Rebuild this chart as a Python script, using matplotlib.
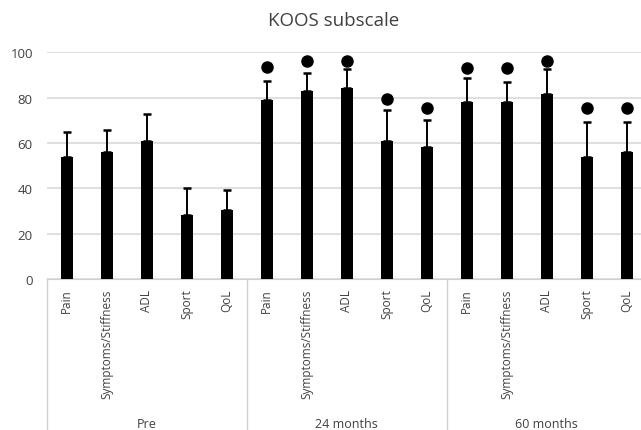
import numpy as np
import matplotlib.pyplot as plt

# KOOS subscale means, upper SD and significance dots per time point
groups = ['Pre', '24 months', '60 months']
subscales = ['Pain', 'Symptoms/Stiffness', 'ADL', 'Sport', 'QoL']
means = [54, 56, 61, 28.4, 30.4,
         79, 83, 84.3, 61, 58.4,
         78.2, 78.2, 81.6, 54, 56.2]
err_top = [65, 65.9, 72.8, 40.1, 39.4,
           87.2, 90.9, 92.6, 74.5, 70.3,
           88.5, 87, 92.6, 69.4, 69.4]
dots = [None, None, None, None, None,
        93.4, 96.3, 96.3, 79.4, 75.4,
        93, 93, 96.3, 75.4, 75.4]

plt.rcParams['font.family'] = ['Open Sans', 'DejaVu Sans']

fig = plt.figure(figsize=(6.41, 4.31), dpi=100)
ax = fig.add_axes([0.0729, 0.3503, 0.936, 0.5263])

x = np.arange(len(means))
upper = np.array(err_top) - np.array(means)
ax.bar(x, means, width=0.29, color='black', zorder=3)
ax.errorbar(x, means, yerr=[np.zeros_like(upper), upper], fmt='none',
            ecolor='black', elinewidth=1.4, capsize=3, capthick=1.8, zorder=3)
dx = [i for i, d in enumerate(dots) if d is not None]
dy = [d for d in dots if d is not None]
ax.plot(dx, dy, 'o', color='black', markersize=8, zorder=4)

ax.set_xlim(-0.5, len(means) - 0.5)
ax.set_ylim(0, 100)
ax.set_yticks(range(0, 101, 20))
ax.yaxis.grid(True, color='#d9d9d9', linewidth=1.2, zorder=0)
for s in ['top', 'right', 'left']:
    ax.spines[s].set_visible(False)
ax.spines['bottom'].set_color('#d0d0d0')
ax.tick_params(axis='y', length=0, pad=10, labelsize=9.5, labelcolor='#404040')
ax.tick_params(axis='x', length=0, pad=7, labelsize=8.5, labelcolor='#404040')
ax.set_xticks(x)
ax.set_xticklabels(subscales * len(groups), rotation=90, va='top')

# group boxes below the axis
trans = ax.get_xaxis_transform()
for b in [-0.5, 4.5, 9.5, 14.5]:
    ax.plot([b, b], [0, -0.67], color='#d0d0d0', linewidth=1,
            transform=trans, clip_on=False)
for i, g in enumerate(groups):
    ax.text(i * 5 + 2, -0.635, g, transform=trans, ha='center', va='center',
            fontsize=9, color='#404040')

fig.text(0.52, 0.952, 'KOOS subscale', ha='center', va='center',
         fontsize=13.5, color='#404040')

fig.savefig('out.png', dpi=100)
